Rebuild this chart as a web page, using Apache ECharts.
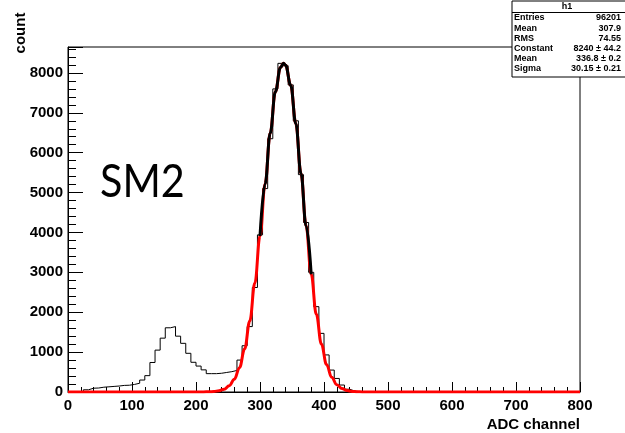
<!DOCTYPE html>
<html>
<head>
<meta charset="utf-8">
<script src="https://cdn.jsdelivr.net/npm/echarts@6/dist/echarts.min.js"></script>
<style>
html,body{margin:0;padding:0;background:#fff;}
#chart{width:625px;height:433px;}
</style>
</head>
<body>
<div id="chart"></div>
<script>
// Histogram: 100 bins of width 8 from 0 to 800 (counts)
const binWidth = 8;
const counts = [
  0, 0, 0, 55, 95, 100, 120, 130, 140, 150,
  165, 170, 190, 220, 300, 410, 740, 1050, 1350, 1610,
  1640, 1400, 1220, 970, 745, 650, 555, 460, 460, 470,
  490, 510, 540, 800, 1160, 1640, 2620, 3940, 5100, 6350,
  7600, 8240, 8180, 7700, 6800, 5450, 4250, 3000, 2140, 1470,
  930, 550, 340, 175, 70, 25, 8, 3, 0, 0,
  0, 0, 0, 0, 0, 0, 0, 0, 0, 0,
  0, 0, 0, 0, 0, 0, 0, 0, 0, 0,
  0, 0, 0, 0, 0, 0, 0, 0, 0, 0,
  0, 0, 0, 0, 0, 0, 0, 0, 0, 0
];
// Fitted gaussian curve points (red, full range)
const fitX = [0, 200, 212, 220, 228, 236, 244, 252, 260, 268, 276, 284, 292, 300, 308, 316, 324, 332, 336.8, 340, 348, 356, 364, 372, 380, 388, 396, 404, 412, 420, 428, 436, 444, 452, 460, 480, 800];
const fitY = [0, 0, 2, 5, 12, 31, 72, 158, 321, 610, 1078, 1779, 2733, 3912, 5223, 6495, 7530, 8136, 8240, 8194, 7691, 6727, 5485, 4169, 2952, 1949, 1199, 687, 367, 183, 85, 37, 15, 5, 2, 0, 0];
// Fit range (black overlay)
const fitRange = [300, 380];
const xTicks = { min: 0, max: 800, interval: 100 };
const yTicks = { min: 0, max: 8650, interval: 1000 };
const statsTitle = 'h1';
const statsLabels = ['Entries', 'Mean', 'RMS', 'Constant', 'Mean', 'Sigma'];
const statsValues = ['96201', '307.9', '74.55', '8240 \u00b1 44.2', '336.8 \u00b1 0.2', '30.15 \u00b1 0.21'];
const xTitle = 'ADC channel';
const yTitle = 'count';
const bigLabel = 'SM2';

const histData = counts.map((c, i) => [i * binWidth, c]);
histData.push([counts.length * binWidth, counts[counts.length - 1]]);
const redData = fitX.map((x, i) => [x, fitY[i]]);
const blackData = redData.filter(p => p[0] >= fitRange[0] && p[0] <= fitRange[1]);

const chart = echarts.init(document.getElementById('chart'), null, { renderer: 'canvas' });

const font = 'Liberation Sans';
const statsGraphics = [];
const bx = 512, by = 1, bw = 114, bh = 76;
statsGraphics.push({ type: 'rect', shape: { x: bx, y: by, width: bw, height: bh }, style: { fill: '#fff', stroke: '#000', lineWidth: 1 }, z: 100 });
statsGraphics.push({ type: 'line', shape: { x1: bx, y1: 12.5, x2: bx + bw, y2: 12.5 }, style: { stroke: '#000', lineWidth: 1 }, z: 101 });
statsGraphics.push({ type: 'text', x: 567, y: 7, style: { text: statsTitle, font: 'bold 9px ' + font, fill: '#000', textAlign: 'center', textVerticalAlign: 'middle' }, z: 102 });
statsLabels.forEach((lab, i) => {
  const yy = 18 + i * 10.2;
  statsGraphics.push({ type: 'text', x: bx + 2, y: yy, style: { text: lab, font: 'bold 9px ' + font, fill: '#000', textAlign: 'left', textVerticalAlign: 'middle' }, z: 102 });
  statsGraphics.push({ type: 'text', x: 621, y: yy, style: { text: statsValues[i], font: 'bold 9px ' + font, fill: '#000', textAlign: 'right', textVerticalAlign: 'middle' }, z: 102 });
});

const plainNum = v => String(v);

chart.setOption({
  animation: false,
  backgroundColor: '#fff',
  grid: { left: 68, right: 45, top: 47, bottom: 41, show: true, borderColor: '#000', borderWidth: 1, backgroundColor: 'transparent' },
  xAxis: {
    type: 'value', min: xTicks.min, max: xTicks.max, interval: xTicks.interval,
    axisLine: { show: true, lineStyle: { color: '#000', width: 1 } },
    axisTick: { show: true, inside: true, length: 10, lineStyle: { color: '#000' } },
    minorTick: { show: true, splitNumber: 5, length: 5, lineStyle: { color: '#000' } },
    splitLine: { show: false },
    axisLabel: { color: '#000', fontWeight: 'bold', fontSize: 15, fontFamily: font, margin: 6, formatter: plainNum }
  },
  yAxis: {
    type: 'value', min: yTicks.min, max: yTicks.max, interval: yTicks.interval,
    axisLine: { show: true, lineStyle: { color: '#000', width: 1 } },
    axisTick: { show: true, inside: true, length: 15, lineStyle: { color: '#000' } },
    minorTick: { show: true, splitNumber: 5, length: 8, lineStyle: { color: '#000' } },
    splitLine: { show: false },
    axisLabel: { color: '#000', fontWeight: 'bold', fontSize: 15, fontFamily: font, margin: 5, showMaxLabel: false, formatter: plainNum }
  },
  graphic: [
    { type: 'text', x: 21, y: 33, rotation: Math.PI / 2, style: { text: yTitle, font: 'bold 15px ' + font, fill: '#000', textAlign: 'center', textVerticalAlign: 'middle' } },
    { type: 'text', x: 580, y: 425, style: { text: xTitle, font: 'bold 15px ' + font, fill: '#000', textAlign: 'right', textVerticalAlign: 'middle' } },
    { type: 'text', x: 100, y: 182, scaleX: 0.88, style: { text: bigLabel, font: '47px Lato', fill: '#000', textAlign: 'left', textVerticalAlign: 'middle' } }
  ].concat(statsGraphics),
  series: [
    { type: 'line', data: histData, step: 'end', showSymbol: false, lineStyle: { color: '#000', width: 1 }, z: 2 },
    { type: 'line', data: redData, smooth: 0.4, smoothMonotone: 'x', showSymbol: false, lineStyle: { color: '#ff0000', width: 3 }, z: 3 },
    { type: 'line', data: blackData, smooth: 0.4, smoothMonotone: 'x', showSymbol: false, lineStyle: { color: '#000', width: 3 }, z: 4 }
  ]
});
</script>
</body>
</html>
